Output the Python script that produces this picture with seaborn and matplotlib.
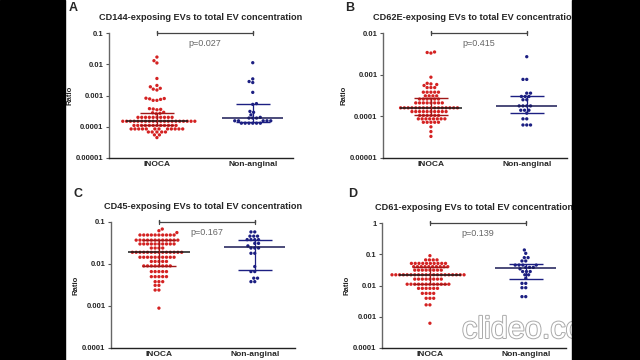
import numpy as np
import pandas as pd
import matplotlib.pyplot as plt
import matplotlib.patheffects as pe
from matplotlib.patches import Rectangle
from matplotlib.ticker import FixedLocator, FuncFormatter, NullLocator
import seaborn as sns

# -------------------------------
# Data
# -------------------------------
groups = ["INOCA", "Non-anginal"]

a_inoca = [0.017, 0.013, 0.011, 0.0035, 0.0021, 0.0019, 0.0017, 0.0016, 0.0015,
           0.00082, 0.0008, 0.00078, 0.00075, 0.0007, 0.0007,
           0.00038, 0.00037, 0.00036, 0.00035, 0.00029, 0.00028, 0.00027, 0.00026,
           0.0002, 0.0002, 0.0002, 0.0002, 0.0002, 0.0002, 0.0002, 0.0002, 0.0002, 0.0002,
           0.00015, 0.00015, 0.00015, 0.00015, 0.00015, 0.00015, 0.00015, 0.00015,
           0.00015, 0.00015, 0.00015, 0.00015, 0.00015, 0.00015, 0.00015, 0.00015,
           0.00015, 0.00015, 0.00015, 0.00015,
           0.00011, 0.00011, 0.00011, 0.00011, 0.00011, 0.00011, 0.00011, 0.00011, 0.00011, 0.00011,
           0.00011, 0.00011,
           0.000085, 0.000085, 0.000085, 0.000085, 0.000085, 0.000085,
           0.000085, 0.000085, 0.000085, 0.000085, 0.000085, 0.000085,
           0.000068, 0.000068, 0.000068, 0.000068, 0.000068, 0.000055, 0.000055, 0.000045]
a_non = [0.0112, 0.0034, 0.0028, 0.0026, 0.00126, 0.00055, 0.00052, 0.00031, 0.00029,
         0.00024, 0.0002, 0.00019, 0.00019, 0.00019,
         0.000155, 0.000155, 0.000155, 0.000155, 0.000155,
         0.00013, 0.00013, 0.00013, 0.00013, 0.00013, 0.00013]

b_inoca = [0.0035, 0.0034, 0.0033, 0.00087, 0.00062, 0.0006, 0.00058, 0.00055,
           0.00049, 0.00049, 0.00049, 0.00038, 0.00038, 0.00038, 0.00038, 0.00038,
           0.00031, 0.00031, 0.00031, 0.00031, 0.00026, 0.00026, 0.00026, 0.00026, 0.00026, 0.00026,
           0.00021, 0.00021, 0.00021, 0.00021, 0.00021, 0.00021, 0.00021, 0.00021,
           0.00016, 0.00016, 0.00016, 0.00016, 0.00016, 0.00016, 0.00016, 0.00016,
           0.00016, 0.00016, 0.00016, 0.00016, 0.00016, 0.00016, 0.00016, 0.00016,
           0.00013, 0.00013, 0.00013, 0.00013, 0.00013, 0.00013, 0.00013, 0.00013, 0.00013, 0.00013,
           0.000105, 0.000105, 0.000105, 0.000105, 0.000105, 0.000105,
           0.000087, 0.000087, 0.000087, 0.000087, 0.000087, 0.000087, 0.000087, 0.000087,
           0.000072, 0.000072, 0.000072, 0.000072, 0.000072, 0.000056, 0.000043, 0.000033]
b_non = [0.0027, 0.00077, 0.00077, 0.00036, 0.00036, 0.0003, 0.0003, 0.0003, 0.00025, 0.00025,
         0.000178, 0.000178, 0.000178, 0.000178, 0.00014, 0.00014, 0.00014, 0.000119,
         0.000087, 0.000087, 0.000062, 0.000062, 0.000062]

c_inoca = [0.068, 0.062, 0.056,
           0.049, 0.049, 0.049, 0.049, 0.049, 0.049, 0.049, 0.049, 0.049, 0.049,
           0.037, 0.037, 0.037, 0.037, 0.037, 0.037, 0.037, 0.037, 0.037, 0.037, 0.037, 0.037,
           0.03, 0.03, 0.03, 0.03, 0.03, 0.03, 0.03, 0.03, 0.03, 0.03,
           0.024, 0.024, 0.024, 0.024,
           0.019, 0.019, 0.019, 0.019, 0.019, 0.019, 0.019, 0.019, 0.019, 0.019, 0.019, 0.019, 0.019, 0.019,
           0.0145, 0.0145, 0.0145, 0.0145, 0.0145, 0.0145, 0.0145, 0.0145, 0.0145, 0.0145,
           0.0115, 0.0115, 0.0115, 0.0115, 0.0115,
           0.009, 0.009, 0.009, 0.009, 0.009, 0.009, 0.009, 0.009,
           0.0066, 0.0066, 0.0066, 0.0066, 0.0066, 0.005, 0.005, 0.005, 0.005, 0.005,
           0.0038, 0.0038, 0.0038, 0.0031, 0.0031, 0.0024, 0.0024, 0.00089]
c_non = [0.058, 0.058, 0.046, 0.046, 0.046, 0.038, 0.038, 0.038, 0.038, 0.031, 0.031, 0.027,
         0.024, 0.024, 0.024, 0.018, 0.018, 0.0087, 0.0066, 0.0066, 0.0046, 0.0046, 0.0038, 0.0038]

d_inoca = [0.09, 0.066, 0.066, 0.066, 0.066,
           0.051, 0.051, 0.051, 0.051, 0.051, 0.051, 0.051, 0.051, 0.051, 0.051,
           0.04, 0.04, 0.04, 0.04, 0.04, 0.04, 0.04, 0.04, 0.04, 0.04,
           0.031, 0.031, 0.031, 0.031, 0.031, 0.031, 0.031, 0.031,
           0.022, 0.022, 0.022, 0.022, 0.022, 0.022, 0.022, 0.022, 0.022, 0.022, 0.022, 0.022, 0.022, 0.022,
           0.022, 0.022, 0.022, 0.022, 0.022, 0.022,
           0.016, 0.016, 0.016, 0.016, 0.016, 0.016, 0.016, 0.016,
           0.011, 0.011, 0.011, 0.011, 0.011, 0.011, 0.011, 0.011, 0.011, 0.011, 0.011, 0.011,
           0.0081, 0.0081, 0.0081, 0.0081, 0.0081, 0.0081,
           0.0056, 0.0056, 0.0056, 0.0056, 0.0039, 0.0039, 0.0039, 0.0024, 0.0024, 0.00062]
d_non = [0.137, 0.107, 0.078, 0.078, 0.061, 0.061, 0.045, 0.045, 0.045, 0.045,
         0.038, 0.038, 0.038, 0.034, 0.028, 0.028, 0.028, 0.022, 0.022, 0.017,
         0.0117, 0.0117, 0.0085, 0.0085, 0.0044, 0.0044]

titles = ["CD144-exposing EVs to total EV concentration",
          "CD62E-exposing EVs to total EV concentration",
          "CD45-exposing EVs to total EV concentration",
          "CD61-exposing EVs to total EV concentration"]
letters = ["A", "B", "C", "D"]
p_values = ["p=0.027", "p=0.415", "p=0.167", "p=0.139"]

a_yticks = [0.00001, 0.0001, 0.001, 0.01, 0.1]
b_yticks = [0.00001, 0.0001, 0.001, 0.01]
c_yticks = [0.0001, 0.001, 0.01, 0.1]
d_yticks = [0.0001, 0.001, 0.01, 0.1, 1]

red = "#d42222"
navy = "#1c1f82"

# -------------------------------
# Style
# -------------------------------
sns.set_style("ticks")
plt.rcParams["font.family"] = ["Liberation Sans", "DejaVu Sans"]
plt.rcParams["font.weight"] = "bold"
plt.rcParams["axes.titleweight"] = "bold"
plt.rcParams["axes.labelweight"] = "bold"

fig = plt.figure(figsize=(6.4, 3.6), dpi=100)

positions = [
    [109 / 640, 1 - 158 / 360, 184 / 640, 125 / 360],
    [383 / 640, 1 - 158 / 360, 184 / 640, 125 / 360],
    [111 / 640, 1 - 348 / 360, 184 / 640, 126 / 360],
    [382 / 640, 1 - 348 / 360, 184 / 640, 125 / 360],
]
letter_xy = [(69, 2), (345, 2), (74, 188), (348, 188)]
panel_data = [(a_inoca, a_non), (b_inoca, b_non), (c_inoca, c_non), (d_inoca, d_non)]
panel_ticks = [a_yticks, b_yticks, c_yticks, d_yticks]

fmt = FuncFormatter(lambda v, p: np.format_float_positional(v, trim="-"))
axes = []

for i in range(4):
    ax = fig.add_axes(positions[i])
    axes.append(ax)
    inoca, non = panel_data[i]
    df = pd.DataFrame({
        "group": [groups[0]] * len(inoca) + [groups[1]] * len(non),
        "ratio": inoca + non,
    })
    # swarm laid out with roomy spacing, dots shrunk a bit afterwards
    sns.swarmplot(data=df, x="group", y="ratio", hue="group",
                  palette=[red, navy], size=2.6, linewidth=0,
                  log_scale=True, legend=False, ax=ax, warn_thresh=1)

    # median with interquartile range
    for j, vals in enumerate([inoca, non]):
        q1, med, q3 = np.percentile(vals, [25, 50, 75], method="weibull")
        mc = "#1a1a1a" if j == 0 else "#1a1a55"
        ec = "#a01818" if j == 0 else navy
        ax.hlines(med, j - 0.32, j + 0.32, color=mc, lw=1.1, zorder=4)
        ax.hlines([q1, q3], j - 0.18, j + 0.18, color=ec, lw=1.0, zorder=4)
        ax.vlines(j, q1, q3, color=ec, lw=0.9, zorder=4)

    yt = panel_ticks[i]
    ax.set_ylim(yt[0], yt[-1])
    ax.set_xlim(-0.5, 1.42)
    ax.yaxis.set_major_locator(FixedLocator(yt))
    ax.yaxis.set_minor_locator(NullLocator())
    ax.yaxis.set_major_formatter(fmt)
    ax.tick_params(axis="y", labelsize=5.5, length=2.5, width=0.8, pad=1.5, color="#555555")
    ax.tick_params(axis="x", labelsize=6, length=0, pad=2)
    ax.set_xlabel("")
    ax.set_ylabel("Ratio", fontsize=5.6, labelpad=1.5)
    sns.despine(ax=ax)
    ax.spines["left"].set_color("#666666")
    ax.spines["left"].set_linewidth(1.0)
    ax.spines["bottom"].set_color("#222222")
    ax.spines["bottom"].set_linewidth(1.0)
    ax.set_title(titles[i], fontsize=6.6, pad=9.5)

    # significance bracket
    tr = ax.get_xaxis_transform()
    ax.plot([0, 0, 0, 1, 1, 1], [0.985, 1.015, 1.0, 1.0, 1.015, 0.985], transform=tr,
            color="#444444", lw=0.9, clip_on=False)
    ax.text(0.5, 0.92, p_values[i], transform=tr, ha="center", va="center",
            fontsize=6.5, color="#666666", fontweight="normal")

    lx, ly = letter_xy[i]
    fig.text(lx / 640, 1 - ly / 360, letters[i], fontsize=9, va="top", ha="left")

# watermark of the source video
fig.text(462 / 640, 1 - 338 / 360, "clideo.com", fontsize=22, color="white",
         fontweight="normal", zorder=8,
         path_effects=[pe.withStroke(linewidth=1.4, foreground="#aaaaaa")])

# letterbox bars
fig.add_artist(Rectangle((0, 0), 65 / 640, 1, transform=fig.transFigure,
                         color="black", zorder=10))
fig.add_artist(Rectangle((572 / 640, 0), 1 - 572 / 640, 1, transform=fig.transFigure,
                         color="black", zorder=10))

# lay out the swarms once, then freeze them and draw the final dot size
fig.canvas.draw()
for ax in axes:
    for coll in ax.collections:
        if "draw" in coll.__dict__:
            del coll.draw
            coll.set_sizes(coll.get_sizes() * 0.85)

fig.savefig("out.png", dpi=100)
